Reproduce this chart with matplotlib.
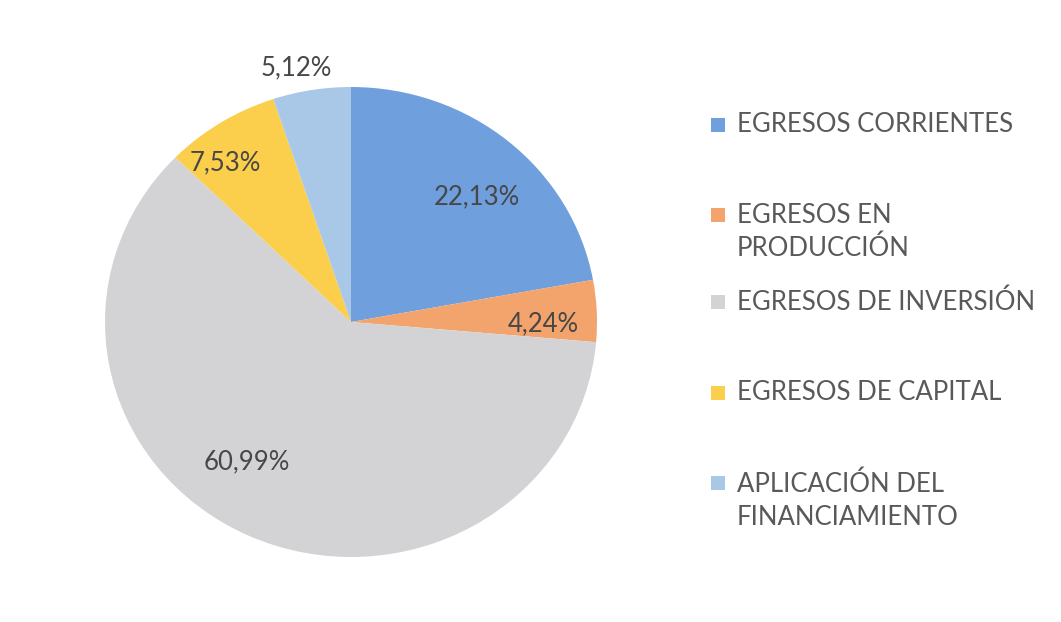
import matplotlib.pyplot as plt
from matplotlib.patches import Rectangle
import numpy as np

categories = ['EGRESOS CORRIENTES', 'EGRESOS EN\nPRODUCCIÓN', 'EGRESOS DE INVERSIÓN',
              'EGRESOS DE CAPITAL', 'APLICACIÓN DEL\nFINANCIAMIENTO']
values = [22.13, 4.24, 60.99, 7.53, 5.12]
labels = ['22,13%', '4,24%', '60,99%', '7,53%', '5,12%']
colors = ['#6f9fdc', '#f2a46c', '#d3d3d6', '#fbcf4c', '#a9c8e8']

# label placement (distance from centre in radii, angle in degrees), Excel "best fit" style
label_pos = [(0.738, 46.1), (0.78, -0.6), (0.731, -125.4), (0.849, 127.1), (1.104, 101.7)]
# legend rows: centre of each text block, pixels from top; marker sits on the first line
legend_y = [125, 232, 302, 393, 501]
marker_y = [125, 215, 302, 393, 483]

W, H = 1061, 622
plt.rcParams['font.family'] = ['Lato', 'DejaVu Sans']
fig = plt.figure(figsize=(W / 100, H / 100), dpi=100)
fig.patch.set_facecolor('white')

# the scanned pie is slightly squashed vertically
cx, cy, rx, ry = 351, 322, 246, 235
ax = fig.add_axes([(cx - rx) / W, (H - cy - ry) / H, 2 * rx / W, 2 * ry / H])
ax.pie(values, colors=colors, startangle=90, counterclock=False, radius=1,
       wedgeprops=dict(linewidth=0))
ax.set_aspect('auto')
ax.set_xlim(-1, 1)
ax.set_ylim(-1, 1)
ax.axis('off')

for lab, (d, a) in zip(labels, label_pos):
    t = np.deg2rad(a)
    ax.text(d * np.cos(t), d * np.sin(t), lab, ha='center', va='center',
            fontsize=18.5, color='#474747')

for cat, col, y, my in zip(categories, colors, legend_y, marker_y):
    fig.patches.append(Rectangle((711 / W, 1 - (my + 7) / H), 14 / W, 14 / H,
                                 transform=fig.transFigure, facecolor=col, edgecolor='none'))
    fig.text(737 / W, 1 - y / H, cat, ha='left', va='center', fontsize=18.5,
             color='#595959', linespacing=1.38)

fig.savefig('out.png', dpi=100, facecolor='white')
